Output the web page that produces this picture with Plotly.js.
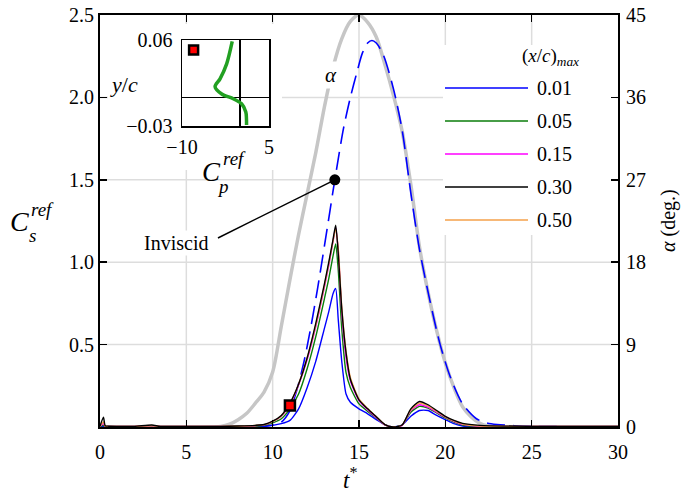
<!DOCTYPE html>
<html><head><meta charset="utf-8">
<script src="https://cdn.plot.ly/plotly-3.0.1.min.js"></script>
<style>html,body{margin:0;padding:0;background:#fff}#g{width:682px;height:494px}</style>
</head><body><div id="g"></div>
<script>
// time grid for the reference skin-friction curves
const t = [0,0.2,0.3,0.5,1,2,3,3.5,5,7,8,9,9.5,10,10.5,11,11.5,12,12.5,13,13.25,13.5,13.65,13.8,14,14.25,14.5,15,15.5,16,16.5,17,17.5,18,18.5,19,19.5,20,20.5,21,22,25,30];
const cs001 = [0.002,0.003,0.002,0.002,0.002,0.002,0.003,0.002,0.002,0.002,0.002,0.003,0.005,0.01,0.02,0.04,0.11,0.24,0.4,0.6,0.7,0.81,0.84,0.65,0.4,0.2,0.15,0.11,0.08,0.045,0.015,0.0,0.013,0.065,0.1,0.1,0.07,0.045,0.02,0.006,0.002,0.002,0.002];
const cs005 = [0.003,0.01,0.003,0.003,0.003,0.003,0.006,0.003,0.003,0.003,0.003,0.005,0.01,0.025,0.05,0.11,0.2,0.355,0.55,0.78,0.9,1.04,1.11,0.95,0.6,0.33,0.24,0.14,0.095,0.055,0.013,0.0,0.012,0.09,0.125,0.115,0.085,0.055,0.03,0.012,0.004,0.003,0.003];
const cs015 = [0.004,0.02,0.004,0.004,0.004,0.004,0.008,0.004,0.004,0.004,0.004,0.008,0.013,0.032,0.065,0.135,0.255,0.41,0.61,0.85,0.98,1.13,1.21,1.07,0.7,0.42,0.28,0.16,0.105,0.058,0.013,0.0,0.01,0.1,0.135,0.12,0.09,0.06,0.035,0.016,0.005,0.003,0.003];
const cs030 = [0.005,0.06,0.008,0.005,0.004,0.004,0.012,0.004,0.003,0.004,0.006,0.01,0.015,0.035,0.07,0.145,0.26,0.42,0.63,0.87,1.0,1.14,1.225,1.05,0.72,0.45,0.29,0.165,0.11,0.062,0.014,0.0,0.012,0.11,0.155,0.135,0.1,0.065,0.04,0.022,0.01,0.004,0.004];
const cs050 = [0.004,0.03,0.005,0.004,0.004,0.004,0.008,0.004,0.004,0.004,0.005,0.009,0.014,0.033,0.067,0.14,0.26,0.42,0.62,0.86,0.99,1.13,1.2,1.08,0.73,0.46,0.3,0.17,0.112,0.064,0.015,0.0,0.012,0.105,0.145,0.128,0.095,0.062,0.037,0.018,0.006,0.004,0.003];
const seriesNames = ['0.01','0.05','0.15','0.30','0.50'];
const seriesColors = ['#0000ff','#0a7d0a','#ff00ff','#000000','#f5a04a'];

// inviscid curve
const tInv = [0,5,9,9.5,10,10.5,11,11.4,11.8,12.2,12.6,13,13.3,13.6,14.1,14.5,14.9,15.2,15.5,15.75,16,16.4,17,17.5,18,18.5,19.1,19.7,20.3,21,21.8,22.4,23,24,25,30];
const csInv = [0,0,0.002,0.005,0.012,0.03,0.1,0.225,0.39,0.6,0.84,1.1,1.3,1.5,1.81,2.0,2.16,2.27,2.33,2.345,2.33,2.26,2.05,1.8,1.42,1.08,0.77,0.5,0.3,0.14,0.05,0.025,0.015,0.008,0.004,0];

// angle of attack (deg)
const tA = [0,6.5,7,7.5,8,8.5,9,9.5,10,10.5,11,11.5,12,12.5,13,13.5,14,14.5,15,15.5,16,16.5,17,17.5,18,18.5,19,19.5,20,20.5,21,21.5,22,22.5,23,30];
const alphaDeg = [0,0,0.05,0.3,0.8,1.5,2.6,3.8,6.0,11.0,16.1,21.0,25.5,30.0,35.0,39.3,42.4,44.3,45,44.2,42.6,39.6,36.2,32.3,26.5,19.7,14.7,10.5,7.0,4.3,2.2,1.1,0.4,0.1,0,0];

// markers
const refPoint = {t: 11.0, cs: 0.13};
const invPoint = {t: 13.6, cs: 1.5};

// inset Cp profile
const cpIn = [-1.34,-2.3,-3.44,-4.3,-3.15,-1.16,0.27,1.0,1.13];
const ycIn = [0.0585,0.035,0.0194,0.0113,0.0035,-0.0015,-0.0067,-0.0154,-0.029];
const insetMark = {cp: -8.0, yc: 0.0496};

const xTicks = [0,5,10,15,20,25,30];
const yTicks = [0.5,1.0,1.5,2.0,2.5];
const yTickText = ['0.5','1.0','1.5','2.0','2.5'];
const aTicks = [0,9,18,27,36,45];

const F = '"Liberation Serif", "Times New Roman", "DejaVu Serif", serif';
const sets = [cs001, cs005, cs015, cs050, cs030];
const setIdx = [0,1,2,4,3];

const traces = [];
// alpha on main (right) axis, drawn first
traces.push({x: tA, y: alphaDeg, yaxis: 'y', mode: 'lines', line: {color: '#c6c6c6', width: 3.5, shape: 'spline', smoothing: 0.8}, hoverinfo: 'skip'});
traces.push({x: tInv, y: csInv, yaxis: 'y2', mode: 'lines', line: {color: '#0000ff', width: 1.6, dash: '18px,8px', shape: 'spline', smoothing: 0.8}});
sets.forEach((s, k) => {
  const i = setIdx[k];
  traces.push({x: t, y: s, yaxis: 'y2', mode: 'lines', name: seriesNames[i], line: {color: seriesColors[i], width: 1.4, shape: 'spline', smoothing: 0.6}});
});
traces.push({x: [invPoint.t], y: [invPoint.cs], yaxis: 'y2', mode: 'markers', marker: {color: '#000', size: 11}});
traces.push({x: [refPoint.t], y: [refPoint.cs], yaxis: 'y2', mode: 'markers', marker: {symbol: 'square', color: '#ff0000', size: 10, line: {color: '#000', width: 2.5}}});
// inset
traces.push({x: cpIn, y: ycIn, xaxis: 'x3', yaxis: 'y3', mode: 'lines', line: {color: '#22a022', width: 3.5, shape: 'spline', smoothing: 0.8}});
traces.push({x: [insetMark.cp], y: [insetMark.yc], xaxis: 'x3', yaxis: 'y3', mode: 'markers', marker: {symbol: 'square', color: '#ff0000', size: 9, line: {color: '#000', width: 2.5}}});

const px = v => (v - 100) / 518;
const py = v => (427 - v) / 412;

const shapes = [];
// gridlines (below), drawn from tick arrays
xTicks.slice(1, -1).forEach(v => shapes.push({type: 'line', xref: 'x', yref: 'paper', x0: v, x1: v, y0: 0, y1: 1, line: {color: '#dddddd', width: 1.5}, layer: 'below'}));
aTicks.slice(1, -1).forEach(v => shapes.push({type: 'line', xref: 'paper', yref: 'y', x0: 0, x1: 1, y0: v, y1: v, line: {color: '#dddddd', width: 1.5}, layer: 'below'}));
// white backing for inset and legend
shapes.push({type: 'rect', xref: 'paper', yref: 'paper', x0: px(108), x1: px(282), y0: py(170), y1: py(24), fillcolor: '#fff', line: {width: 0}, layer: 'below'});
shapes.push({type: 'rect', xref: 'paper', yref: 'paper', x0: px(443), x1: px(616), y0: py(235), y1: py(45), fillcolor: '#fff', line: {width: 0}, layer: 'below'});
// leader line to inviscid point
shapes.push({type: 'line', xref: 'x', yref: 'y2', x0: 6.83, y0: 1.147, x1: invPoint.t, y1: invPoint.cs, line: {color: '#000', width: 1.5}});

const legY = [88,121,154,187,220];
const annotations = [];
seriesNames.forEach((n, i) => {
  shapes.push({type: 'line', xref: 'paper', yref: 'paper', x0: px(445), x1: px(528), y0: py(legY[i]), y1: py(legY[i]), line: {color: seriesColors[i], width: 1.5}});
  annotations.push({xref: 'paper', yref: 'paper', x: px(535), y: py(legY[i]), xanchor: 'left', yanchor: 'middle', text: n, showarrow: false, font: {family: F, size: 20, color: '#000'}});
});
const ann = (x, y, text, size, extra) => Object.assign({xref: 'paper', yref: 'paper', x: px(x), y: py(y), text: text, showarrow: false, font: {family: F, size: size, color: '#000'}, xanchor: 'center', yanchor: 'middle'}, extra || {});
annotations.push(
  ann(550, 57, '(<i>x</i>/<i>c</i>)<sub><i>max</i></sub>', 19),
  ann(331, 75, '<i>α</i>', 21, {bgcolor: '#fff'}),
  ann(176, 243, 'Inviscid', 20, {bgcolor: '#fff'}),
  ann(19, 221, '<i>C</i>', 28),
  ann(42, 209, '<i>ref</i>', 19),
  ann(32, 235, '<i>s</i>', 19),
  ann(350, 478, '<i>t</i><sup>*</sup>', 23),
  ann(668, 221, '<i>α</i> (deg.)', 20, {textangle: -90}),
  ann(124, 84, '<i>y</i>/<i>c</i>', 22),
  ann(211, 172, '<i>C</i>', 27),
  ann(223, 186, '<i>p</i>', 19),
  ann(234, 159, '<i>ref</i>', 19)
);

const axBase = {showline: true, linecolor: '#000', linewidth: 2, ticks: 'inside', ticklen: 7, tickwidth: 1.5, tickcolor: '#000', zeroline: false, showgrid: false, tickfont: {family: F, size: 20, color: '#000'}};

const layout = {
  width: 682, height: 494,
  margin: {l: 100, r: 64, t: 15, b: 67},
  paper_bgcolor: '#fff', plot_bgcolor: 'rgba(0,0,0,0)',
  showlegend: false,
  xaxis: Object.assign({}, axBase, {range: [0, 30], tickvals: xTicks, mirror: 'ticks', domain: [0, 1], ticklabelstandoff: 6}),
  yaxis: Object.assign({}, axBase, {range: [0, 45], tickvals: aTicks, side: 'right', ticklabelstandoff: 2}),
  yaxis2: Object.assign({}, axBase, {range: [0, 2.5], tickvals: yTicks, ticktext: yTickText, overlaying: 'y', side: 'left', ticklabelstandoff: 0}),
  xaxis3: {domain: [px(182), px(269)], anchor: 'y3', range: [-10, 5], tickvals: [-10, 5], showline: true, mirror: true, linecolor: '#000', linewidth: 1.5, ticks: '', showgrid: false, zeroline: true, zerolinecolor: '#000', zerolinewidth: 1.5, ticklabelstandoff: 2, tickfont: {family: F, size: 20, color: '#000'}},
  yaxis3: {domain: [py(126), py(40)], anchor: 'x3', range: [-0.03, 0.06], tickvals: [-0.03, 0.06], showline: true, mirror: true, linecolor: '#000', linewidth: 1.5, ticks: '', showgrid: false, zeroline: true, zerolinecolor: '#000', zerolinewidth: 1.5, ticklabelstandoff: 4, tickfont: {family: F, size: 20, color: '#000'}},
  shapes: shapes,
  annotations: annotations
};
Plotly.newPlot('g', traces, layout, {displayModeBar: false, staticPlot: true});
</script></body></html>
